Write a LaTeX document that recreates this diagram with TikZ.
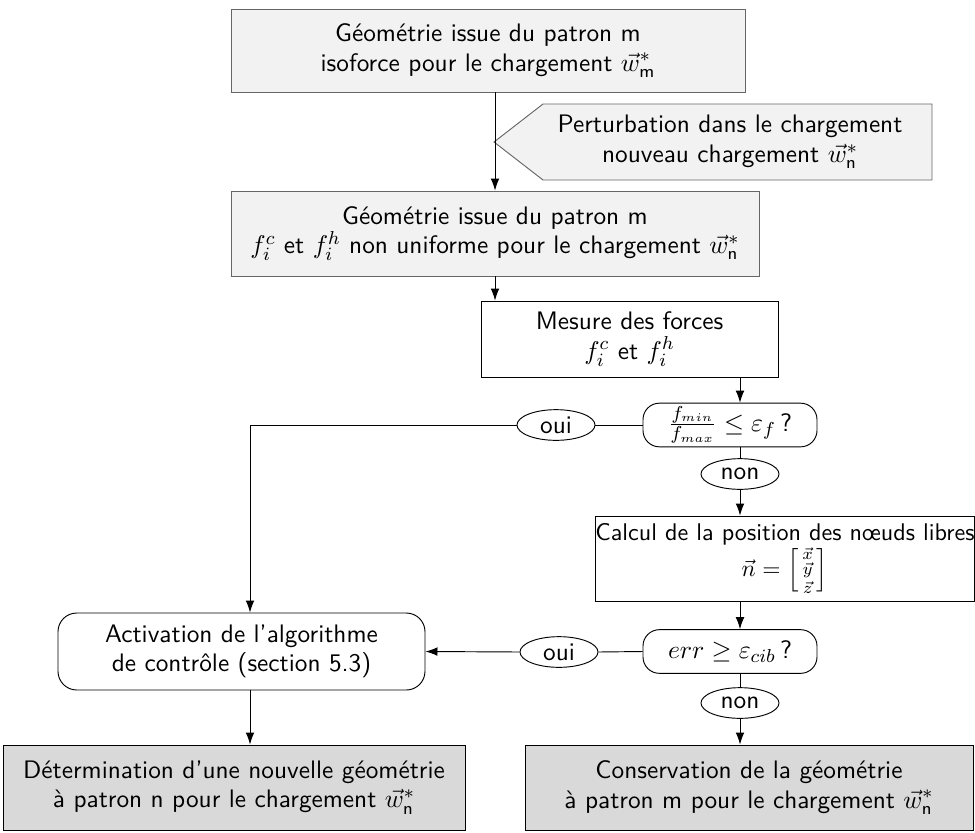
\documentclass[tikz,border=0pt]{standalone}
\usepackage{amsmath,amssymb}
\usepackage{fontspec}
\usetikzlibrary{arrows.meta,shapes.geometric}

\begin{document}
\begin{tikzpicture}[x=0.015cm,y=-0.015cm,>={Latex[length=1.8mm,width=1.3mm]},
  font=\sffamily\fontsize{10.8}{12.6}\selectfont,
  box/.style={draw,align=center,inner sep=0pt},
  topbox/.style={box,draw=black!60,fill=black!5},
  endbox/.style={box,fill=black!15},
  testbox/.style={box,rounded corners=7pt,minimum width=2.61cm,minimum height=0.655cm},
  answer/.style={draw,ellipse,inner sep=0pt,minimum width=1.17cm,minimum height=0.46cm}]
\useasboundingbox (0,0) rectangle (975,832);
% chain on the right
\node[topbox,minimum width=7.71cm,minimum height=1.245cm] (geom) at (488,50.5)
  {Géométrie issue du patron m\\isoforce pour le chargement $\vec{w}^*_{\mathsf{m}}$};
\draw[draw=black!60,fill=black!5] (494,142) -- (543,104) -- (932,104) -- (932,180) -- (543,180) -- cycle;
\node[align=center] (perturb) at (730,142)
  {Perturbation dans le chargement\\nouveau chargement $\vec{w}^*_{\mathsf{n}}$};
\node[topbox,minimum width=7.92cm,minimum height=1.275cm] (geomn) at (495,233.5)
  {Géométrie issue du patron m\\$f_i^c$ et $f_i^h$ non uniforme pour le chargement $\vec{w}^*_{\mathsf{n}}$};
\node[box,minimum width=4.455cm,minimum height=1.14cm] (mesure) at (629.5,339)
  {Mesure des forces\\$f_i^c$ et $f_i^h$};
\node[testbox] (test1) at (730,425) {$\frac{f_{min}}{f_{max}} \leq \varepsilon_f$\,?};
\node[answer] (oui1) at (556,425) {oui};
\node[answer] (non1) at (740,474) {non};
\node[box,font=\sffamily\fontsize{10.3}{12.4}\selectfont,minimum width=5.67cm,minimum height=1.275cm] (calcul) at (785,558.5)
  {Calcul de la position des n\oe uds libres\\$\vec{n} = \left[\begin{smallmatrix}\vec{x}\\ \vec{y}\\ \vec{z}\end{smallmatrix}\right]$};
\node[testbox] (test2) at (730,651.5) {$err \geq \varepsilon_{cib}$\,?};
\node[answer] (oui2) at (559,652) {oui};
\node[answer] (non2) at (740,703) {non};
% left column and outcomes
\node[box,rounded corners=8pt,minimum width=5.505cm,minimum height=1.155cm] (activ) at (241.5,651.5)
  {Activation de l'algorithme\\de contrôle (section 5.3)};
\node[endbox,minimum width=6.93cm,minimum height=1.275cm] (nouvelle) at (234,787.5)
  {Détermination d'une nouvelle géométrie\\à patron n pour le chargement $\vec{w}^*_{\mathsf{n}}$};
\node[endbox,minimum width=6.72cm,minimum height=1.275cm] (garde) at (749,787.5)
  {Conservation de la géométrie\\à patron m pour le chargement $\vec{w}^*_{\mathsf{n}}$};
\coordinate (coin) at (250,425);
% connectors
\draw[->] (geom.south -| geomn.north) -- (geomn.north);
\draw[->] (geomn.south) -- (geomn.south |- mesure.north);
\draw[->] (mesure.south -| non1) -- (test1.north -| non1);
\draw (test1.south -| non1) -- (non1.north);
\draw[->] (non1.south) -- (calcul.north -| non1);
\draw[->] (calcul.south -| non1) -- (test2.north -| non1);
\draw (test2.south -| non1) -- (non2.north);
\draw[->] (non2.south) -- (garde.north -| non2);
\draw (test1.west) -- (oui1.east);
\draw[->] (oui1.west) -- (coin) -- (activ.north -| coin);
\draw (test2.west) -- (oui2.east);
\draw[->] (oui2.west) -- (activ.east);
\draw[->] (activ.south -| coin) -- (nouvelle.north -| coin);
\end{tikzpicture}
\end{document}
